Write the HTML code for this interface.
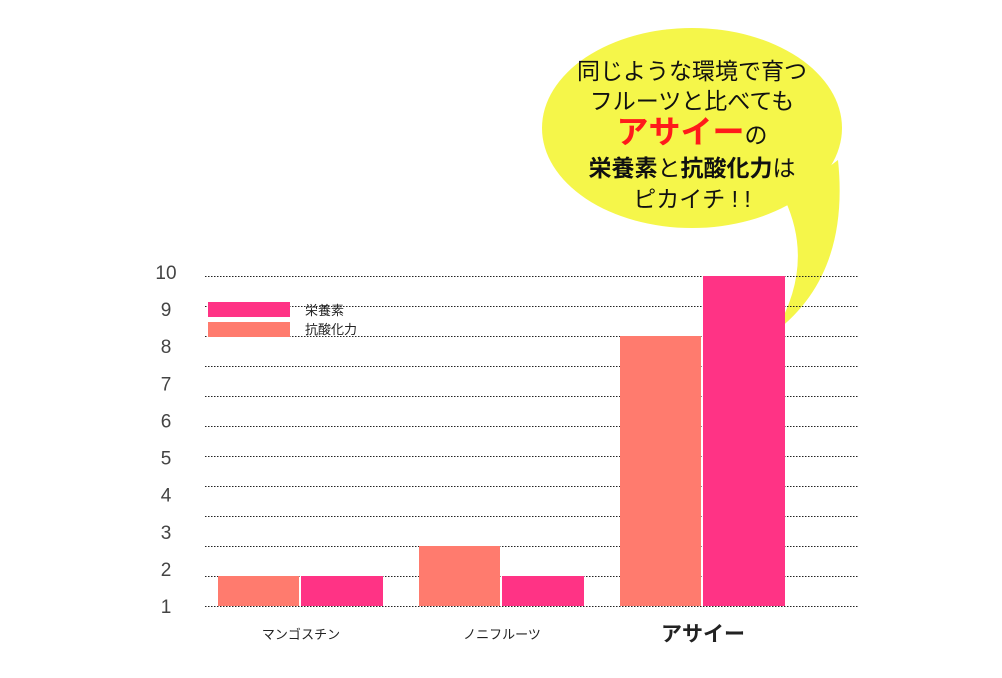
<!DOCTYPE html>
<html><head><meta charset="utf-8"><style>
body{margin:0;background:#fff;width:1002px;height:678px;overflow:hidden}
svg{display:block}
text{font-family:"Liberation Sans","Noto Sans CJK JP",sans-serif}
</style></head><body>
<svg id="c" width="1002" height="678">
<g>
<path d="M785,200 Q815,265 775,332 Q850,275 838,160 Z" fill="#f5f64a"/>
<ellipse cx="692" cy="128" rx="150" ry="100" fill="#f5f64a"/>
<g font-size="23" text-anchor="middle" fill="#111">
<text x="692" y="79">同じような環境で育つ</text>
<text x="692" y="109">フルーツと比べても</text>
<text x="692" y="143"><tspan fill="#ff1a1a" font-weight="bold" font-size="32">アサイー</tspan>の</text>
<text x="692" y="176"><tspan font-weight="bold">栄養素</tspan>と<tspan font-weight="bold">抗酸化力</tspan>は</text>
<text x="692" y="207">ピカイチ ! !</text>
</g></g>
<g id="grid"></g><g id="ylab"></g><g id="bars"></g><g id="xlab"></g>
<g>
<rect x="208" y="302" width="82" height="15" fill="#ff3385"/>
<text x="305" y="315" font-size="13" fill="#222">栄養素</text>
<rect x="208" y="322" width="82" height="15" fill="#ff7b6e"/>
<text x="305" y="334" font-size="13" fill="#222">抗酸化力</text>
</g>
</svg>
<script>
const categories=["マンゴスチン","ノニフルーツ","アサイー"];
const antioxidant=[1,2,9];
const nutrition=[1,1,11];
const yTicks=["1","2","3","4","5","6","7","8","9","10"];
const gridCount=11;
const NS="http://www.w3.org/2000/svg";
const y0=606,yTop=276,x0=205,x1=858;
const y=v=>y0-(v/gridCount)*(y0-yTop);
const groupX=i=>218+i*201;
function mk(t,a,p){const e=document.createElementNS(NS,t);for(const k in a)e.setAttribute(k,a[k]);p.appendChild(e);return e;}
const g=document.getElementById('grid');
for(let k=0;k<=gridCount;k++){
 const l=mk('line',{x1:x0,x2:x1,y1:y(k)+0.5,y2:y(k)+0.5,stroke:'#222','stroke-dasharray':'1.5,1.5','stroke-width':1},g);
 
 
}
const yl=document.getElementById('ylab');
yTicks.forEach((t,i)=>{
 const ty=613-i*(613-279)/(yTicks.length-1);
 const e=mk('text',{x:166,y:ty,'font-size':19,'text-anchor':'middle',fill:'#444'},yl);
 e.textContent=t;
 
 
});
const b=document.getElementById('bars'),xl=document.getElementById('xlab');
categories.forEach((c,i)=>{
 const gx=groupX(i);
 const r1=mk('rect',{x:gx,y:y(antioxidant[i]),width:81,height:y0-y(antioxidant[i]),fill:'#ff7b6e'},b);
 
 
 const r2=mk('rect',{x:gx+83,y:y(nutrition[i]),width:82,height:y0-y(nutrition[i]),fill:'#ff3385'},b);
 
 
 const last=i===categories.length-1;
 const t=mk('text',{x:gx+83,y:last?641:639,'font-size':last?21:13,'font-weight':last?'bold':'normal','text-anchor':'middle',fill:'#222'},xl);
 t.textContent=c;
 
 
});
</script>
</body></html>
